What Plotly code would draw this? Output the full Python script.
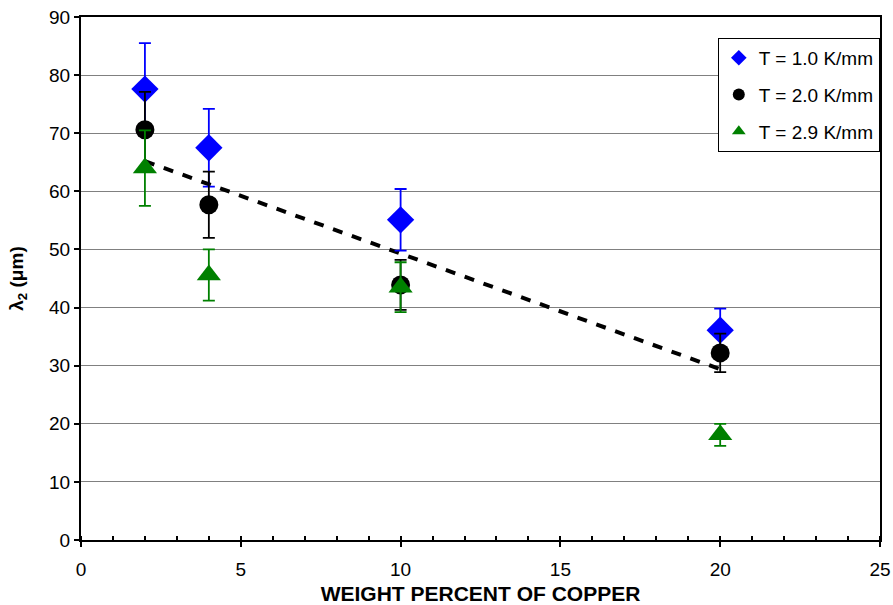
import plotly.graph_objects as go

# Copper content (wt%)
copper = [2, 4, 10, 20]

# Secondary dendrite arm spacing (um) and error bars per thermal gradient
lam_g10 = [77.6, 67.5, 55.1, 36.1]
err_g10 = [7.9, 6.7, 5.3, 3.7]

lam_g20 = [70.6, 57.7, 43.9, 32.2]
err_g20 = [6.5, 5.7, 4.3, 3.3]

lam_g29 = [64.0, 45.6, 43.5, 18.1]
err_g29 = [6.5, 4.4, 4.3, 1.9]

# Trend line endpoints
trend_x = [2, 20]
trend_y = [65.2, 29.4]

fig = go.Figure()

fig.add_trace(go.Scatter(
    x=trend_x, y=trend_y, mode="lines",
    line=dict(color="black", width=4, dash="10px,10px"),
    showlegend=False, hoverinfo="skip"))

series = [
    ("T = 1.0 K/mm", lam_g10, err_g10, "#0000ff", "diamond", 21),
    ("T = 2.0 K/mm", lam_g20, err_g20, "#000000", "circle", 19),
    ("T = 2.9 K/mm", lam_g29, err_g29, "#008000", "triangle-up", 21),
]
for name, ys, es, col, sym, sz in series:
    fig.add_trace(go.Scatter(
        x=copper, y=ys, mode="markers", name=name, legendgroup=name,
        marker=dict(color=col, symbol=sym, size=sz, line=dict(width=0)),
        error_y=dict(type="data", array=es, visible=True,
                     color=col, thickness=1.8, width=6)))

fig.update_layout(
    width=893, height=605,
    margin=dict(l=81, r=13, t=17, b=65, autoexpand=False),
    paper_bgcolor="white", plot_bgcolor="white",
    font=dict(family="Liberation Sans, Arial, sans-serif", color="black", size=18),
    legend=dict(x=0.797, y=0.96, xanchor="left", yanchor="top",
                bordercolor="black", borderwidth=1, bgcolor="white",
                font=dict(size=19), tracegroupgap=9, itemsizing="constant"),
    xaxis=dict(
        range=[0, 25], tickvals=[0, 5, 10, 15, 20, 25], automargin=False,
        ticks="outside", ticklen=5, tickcolor="black", tickwidth=1.5,
        ticklabelstandoff=6,
        minor=dict(dtick=1, ticks="inside", ticklen=4, tickcolor="black", showgrid=False),
        showgrid=False, zeroline=False,
        showline=True, linecolor="black", linewidth=2, mirror=True,
        tickfont=dict(size=19),
        title=dict(text="<b>WEIGHT PERCENT OF COPPER</b>",
                   font=dict(size=21), standoff=8),
    ),
    yaxis=dict(
        range=[0, 90], dtick=10, automargin=False,
        ticks="outside", ticklen=5, tickcolor="black", tickwidth=1.5,
        showgrid=True, gridcolor="#808080", gridwidth=1.2, zeroline=False,
        showline=True, linecolor="black", linewidth=2, mirror=True,
        tickfont=dict(size=19),
        title=dict(text="<b>λ<sub>2</sub> (μm)</b>", font=dict(size=19), standoff=20),
    ),
)

fig.write_html("out.html")
